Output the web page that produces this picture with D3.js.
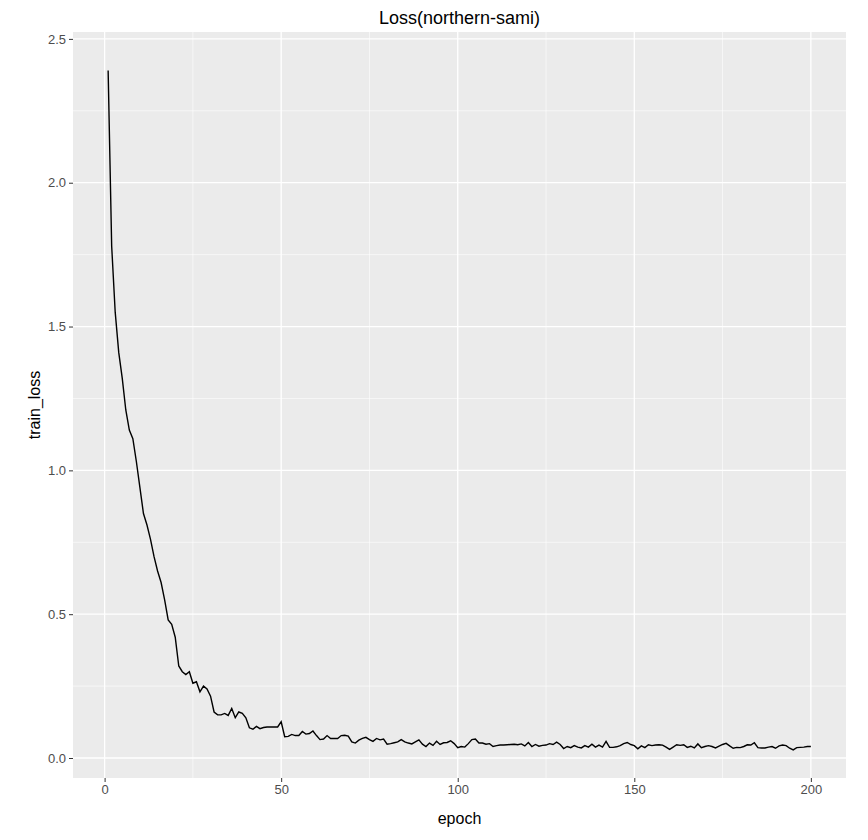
<!DOCTYPE html>
<html><head><meta charset="utf-8">
<script src="https://cdn.jsdelivr.net/npm/d3@7"></script>
<style>body{margin:0;background:#fff}text{font-family:"Liberation Sans",Arial,sans-serif}</style>
</head><body><svg width="868" height="840"></svg>
<script>
// train loss per epoch
var lossHead = [2.39,1.78,1.55,1.41,1.32,1.21,1.14,1.11,1.03,0.94,0.85,0.81,0.76,0.70,0.65,0.61,0.55,0.48,0.465,0.42,
  0.32,0.30,0.29,0.30,0.26,0.265,0.23,0.25,0.24,0.215,0.16,0.15,0.15,0.155,0.148,0.172,0.14,0.16,0.155,0.14,
  0.105,0.10,0.11,0.102,0.106,0.108,0.108,0.108,0.108,0.126];
var lossTail = [0.074,0.075,0.082,0.078,0.078,0.092,0.083,0.085,0.094,0.078,0.064,0.066,0.078,0.068,0.068,0.068,0.078,0.079,0.076,0.056,
  0.052,0.062,0.068,0.072,0.064,0.058,0.068,0.063,0.066,0.048,0.050,0.053,0.056,0.064,0.056,0.052,0.049,0.056,0.063,0.048,
  0.040,0.052,0.044,0.058,0.047,0.053,0.054,0.060,0.050,0.036,0.040,0.038,0.050,0.064,0.066,0.052,0.052,0.048,0.050,0.040,
  0.043,0.045,0.045,0.046,0.047,0.048,0.046,0.049,0.042,0.054,0.040,0.047,0.041,0.044,0.045,0.050,0.047,0.055,0.047,0.033,
  0.040,0.036,0.043,0.038,0.035,0.043,0.038,0.048,0.038,0.045,0.038,0.058,0.037,0.037,0.039,0.043,0.050,0.054,0.047,0.043,
  0.032,0.042,0.036,0.046,0.043,0.045,0.046,0.045,0.038,0.030,0.038,0.046,0.044,0.046,0.037,0.041,0.035,0.049,0.036,0.040,
  0.043,0.040,0.035,0.041,0.047,0.051,0.042,0.034,0.037,0.036,0.040,0.046,0.045,0.053,0.036,0.035,0.035,0.038,0.040,0.034,
  0.042,0.045,0.043,0.034,0.028,0.036,0.037,0.038,0.040,0.040];
var loss = lossHead.concat(lossTail);
var xTicks = [0,50,100,150,200];
var yTicks = [0,0.5,1,1.5,2,2.5];
var xMinor = [25,75,125,175];
var yMinor = [0.25,0.75,1.25,1.75,2.25];

var svg = d3.select("svg");
var L = 73, R = 846, T = 32, B = 778;
var x = d3.scaleLinear().domain([-8.95, 209.95]).range([L, R]);
var y = d3.scaleLinear().domain([-0.0695, 2.524]).range([B, T]);

svg.append("rect").attr("x", L).attr("y", T).attr("width", R - L).attr("height", B - T).attr("fill", "#ebebeb");
var g = svg.append("g");
xMinor.forEach(v => g.append("line").attr("x1", x(v)).attr("x2", x(v)).attr("y1", T).attr("y2", B).attr("stroke", "#fff").attr("stroke-width", 0.6));
yMinor.forEach(v => g.append("line").attr("y1", y(v)).attr("y2", y(v)).attr("x1", L).attr("x2", R).attr("stroke", "#fff").attr("stroke-width", 0.6));
xTicks.forEach(v => g.append("line").attr("x1", x(v)).attr("x2", x(v)).attr("y1", T).attr("y2", B).attr("stroke", "#fff").attr("stroke-width", 1.3));
yTicks.forEach(v => g.append("line").attr("y1", y(v)).attr("y2", y(v)).attr("x1", L).attr("x2", R).attr("stroke", "#fff").attr("stroke-width", 1.3));

var xAxis = svg.append("g").attr("transform", `translate(0,${B})`)
  .call(d3.axisBottom(x).tickValues(xTicks).tickSize(4).tickPadding(3));
var yAxis = svg.append("g").attr("transform", `translate(${L},0)`)
  .call(d3.axisLeft(y).tickValues(yTicks).tickFormat(d3.format(".1f")).tickSize(4).tickPadding(3));
[xAxis, yAxis].forEach(a => {
  a.select(".domain").remove();
  a.selectAll("line").attr("stroke", "#333");
  a.selectAll("text").attr("fill", "#4d4d4d").style("font-size", "13px");
});

svg.append("path").datum(loss)
  .attr("fill", "none").attr("stroke", "#000").attr("stroke-width", 1.4)
  .attr("d", d3.line().x((d, i) => x(i + 1)).y(d => y(d)));

svg.append("text").attr("x", (L + R) / 2).attr("y", 24).attr("text-anchor", "middle").style("font-size", "18px").text("Loss(northern-sami)");
svg.append("text").attr("x", (L + R) / 2).attr("y", 824).attr("text-anchor", "middle").style("font-size", "16px").text("epoch");
svg.append("text").attr("transform", `translate(40,${(T + B) / 2}) rotate(-90)`).attr("text-anchor", "middle").style("font-size", "16px").text("train_loss");
</script></body></html>
